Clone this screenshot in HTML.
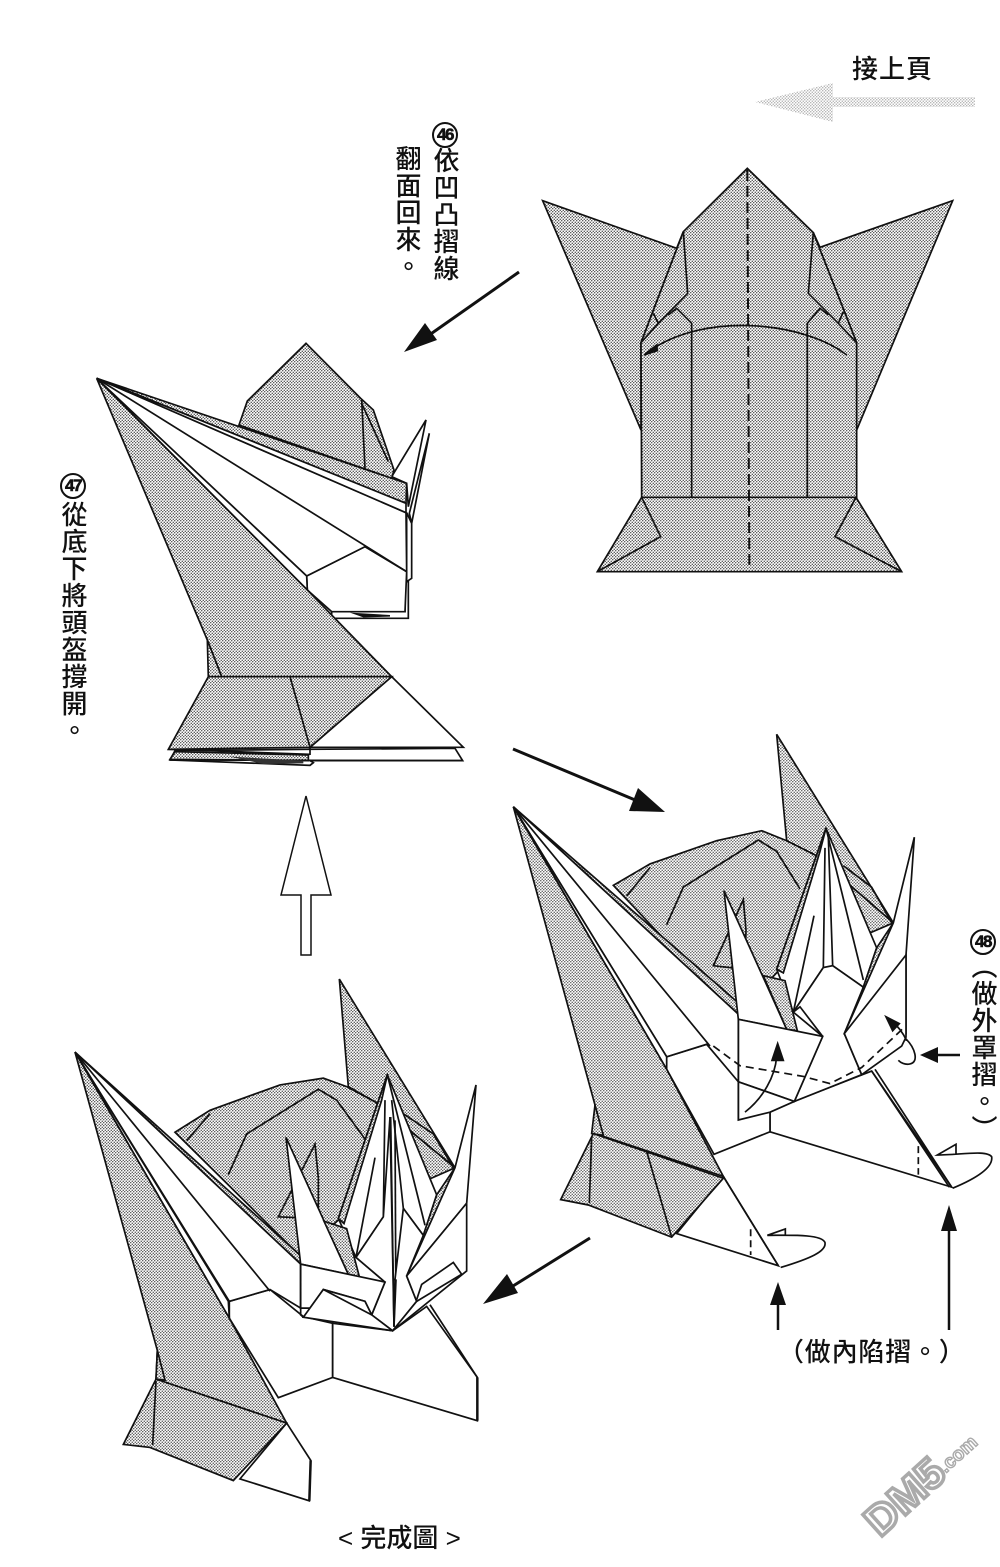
<!DOCTYPE html>
<html><head><meta charset="utf-8">
<style>
html,body{margin:0;padding:0;background:#fff;}
#p{position:relative;width:1000px;height:1567px;overflow:hidden;background:#fff;font-family:"Liberation Sans","Noto Sans CJK TC",sans-serif;color:#111;}
svg{position:absolute;left:0;top:0;}
svg *{vector-effect:non-scaling-stroke;}
.d polygon,.d path,.d polyline,.d line{stroke:#111;stroke-width:1.7;stroke-linejoin:miter;}
.d polyline,.d path,.d line{fill:none;}
.w{fill:#fff;}
.v{position:absolute;writing-mode:vertical-rl;font-size:26px;font-weight:500;line-height:30px;letter-spacing:1px;white-space:nowrap;}
.h{position:absolute;font-size:26px;font-weight:500;line-height:30px;white-space:nowrap;}
.c{position:absolute;width:22px;height:22px;border:2px solid #111;border-radius:50%;background:#fff;font:bold 17px/22px "Liberation Sans",sans-serif;text-align:center;letter-spacing:-1.5px;-webkit-text-stroke:.6px #111;}
</style></head><body><div id="p">
<svg width="1000" height="1567" viewBox="0 0 1000 1567" xmlns="http://www.w3.org/2000/svg">
<defs>
<pattern id="t1" patternUnits="userSpaceOnUse" width="9" height="9" viewBox="0 0 3 3"><rect width="3" height="3" fill="#fff"/><circle cx=".75" cy=".75" r=".68" fill="#222"/><circle cx="2.25" cy="2.25" r=".68" fill="#222"/></pattern>
<pattern id="t3" patternUnits="userSpaceOnUse" width="9" height="8.4" viewBox="0 0 3 3"><rect width="3" height="3" fill="#fff"/><circle cx=".75" cy=".75" r=".68" fill="#222"/><circle cx="2.25" cy="2.25" r=".68" fill="#222"/></pattern>
<pattern id="t4" patternUnits="userSpaceOnUse" width="9" height="8.87" viewBox="0 0 3 3"><rect width="3" height="3" fill="#fff"/><circle cx=".75" cy=".75" r=".68" fill="#222"/><circle cx="2.25" cy="2.25" r=".68" fill="#222"/></pattern>
<pattern id="t0" patternUnits="userSpaceOnUse" width="3" height="3"><rect width="3" height="3" fill="#fff"/><circle cx=".75" cy=".75" r=".7" fill="#aaa"/><circle cx="2.25" cy="2.25" r=".7" fill="#aaa"/></pattern>
</defs>

<!-- page top arrow -->
<polygon points="755,102 833,83 833,97 975,97 975,107 833,107 833,122" fill="url(#t0)"/>

<!-- Diagram 1 -->
<g class="d" transform="translate(540,160) scale(.33333)" fill="url(#t1)">
<polygon points="8,122 410,265 430,215 303,548 303,810"/>
<polygon points="1238,122 840,262 820,218 950,548 950,810"/>
<polygon points="622,25 820,218 950,548 950,1012 305,1012 303,548 430,215"/>
<polygon points="305,1012 948,1012 1085,1235 172,1235"/>
<polyline points="430,215 443,400 355,490 303,548"/>
<polyline points="820,218 805,400 895,490 950,548"/>
<polyline points="340,460 355,490"/>
<polyline points="910,455 895,490"/>
<polyline points="385,465 410,445 455,490 455,1012"/>
<polyline points="865,465 840,445 802,490 802,1012"/>
<polyline points="305,1012 362,1130 172,1235"/>
<polyline points="948,1012 885,1130 1085,1235"/>
<line x1="622" y1="30" x2="628" y2="1225" style="stroke-dasharray:11 5;stroke-width:2"/>
<path d="M920,585 C800,490 500,450 325,575"/>
<polygon points="312,585 350,555 352,572" style="fill:#111"/>
</g>

<!-- Diagram 2 -->
<g class="d" transform="translate(90,340) scale(.33333)" fill="url(#t1)">
<polygon class="w" points="965,550 1018,280 958,520"/>
<polygon class="w" points="905,410 1008,240 955,500 950,430"/>
<polygon points="447,255 472,183 648,10 812,175 850,210 912,390 905,415"/>
<polyline points="815,180 825,385"/>
<polyline points="815,190 895,365"/>
<polygon class="w" points="725,815 945,815 945,725 955,725 955,835 725,835"/>
<polygon class="w" points="950,518 965,550 965,715 950,725"/>
<polygon class="w" points="650,708 825,620 950,695 945,815 725,815 652,750"/>
<polygon class="w" points="20,115 948,518 950,695 825,620 650,708 30,125"/>
<line x1="20" y1="115" x2="950" y2="695"/>
<polygon points="20,115 950,430 948,490"/>
<polygon class="w" points="20,115 948,490 948,518"/>
<polygon class="w" points="20,115 650,708 652,750"/>
<polygon points="20,115 652,750 905,1010 395,1010 352,900"/>
<polygon points="352,900 355,1010 395,1010"/>
<polygon class="w" points="660,1228 1095,1225 1118,1262 660,1262 670,1268 660,1276 240,1260 255,1232"/>
<polygon class="w" points="660,1222 905,1010 1120,1222"/>
<polygon points="355,1010 905,1010 660,1222 235,1228"/>
<polyline points="235,1228 660,1243"/>
<polygon points="255,1235 655,1245 655,1262 240,1258"/>
<polyline points="600,1010 660,1222 660,1245"/>
<polyline points="240,1260 1118,1262"/>
<polygon points="780,818 900,825 900,830 820,832" style="fill:#111;stroke:none"/>
<polygon points="420,1250 640,1262 640,1270 520,1272" style="fill:#333;stroke:none"/>
</g>

<!-- Arrows between -->
<g>
<line x1="519" y1="272" x2="425" y2="338" stroke="#111" stroke-width="3"/>
<polygon points="404,352 425,323 437,340" fill="#111"/>
<line x1="513" y1="749" x2="640" y2="802" stroke="#111" stroke-width="3"/>
<polygon points="665,812 629,811 638,788" fill="#111"/>
<line x1="590" y1="1238" x2="505" y2="1291" stroke="#111" stroke-width="3"/>
<polygon points="483,1304 507,1274 518,1293" fill="#111"/>
<polygon points="306,796 331,895 311,895 311,955 301,955 301,895 281,895" fill="#fff" stroke="#111" stroke-width="1.5"/>
<line x1="778" y1="1330" x2="778" y2="1300" stroke="#111" stroke-width="2.5"/>
<polygon points="778,1282 770,1305 786,1305" fill="#111"/>
<line x1="949" y1="1330" x2="949" y2="1228" stroke="#111" stroke-width="2.5"/>
<polygon points="949,1205 941,1231 957,1231" fill="#111"/>
<line x1="960" y1="1055" x2="935" y2="1055" stroke="#111" stroke-width="2.5"/>
<polygon points="920,1055 938,1047 938,1063" fill="#111"/>
</g>

<!-- Diagram 3 -->
<g class="d" transform="translate(510,730) scale(.33333,.35714)" fill="url(#t3)">
<polygon points="800,12 830,310 915,350 1150,540"/>
<polygon points="310,435 420,375 620,310 755,282 830,310 915,350 1150,540 800,680 680,800"/>
<polyline points="470,545 520,440 745,308 800,340 870,445"/>
<polyline points="350,465 420,385"/>
<polyline points="1000,380 1085,440 1145,540"/>
<polygon points="700,475 610,660 705,670 708,560"/>
<!-- lower panels -->
<polygon class="w" points="640,1250 805,1500 500,1410"/>
<polygon class="w" points="780,1125 1325,1280 1085,955 850,1040 780,1070"/>
<polygon class="w" points="470,915 590,880 780,1040 780,1125 612,1188 470,950"/>
<polyline points="1085,955 1318,1280"/>
<polyline points="1095,950 1325,1280"/>
<polyline points="640,1250 805,1500"/>
<line x1="722" y1="1398" x2="722" y2="1470" style="stroke-dasharray:7 4"/>
<line x1="1225" y1="1165" x2="1225" y2="1245" style="stroke-dasharray:7 4"/>
<!-- shaded band along blade -->
<polygon points="10,215 690,800 680,760"/>
<!-- white blade -->
<polygon class="w" points="10,215 690,800 685,985 590,880 470,915"/>
<line x1="10" y1="215" x2="600" y2="885"/>
<polygon class="w" points="10,215 470,915 470,950"/>
<!-- main shaded -->
<polygon points="10,215 470,950 640,1250 255,1130 255,1050"/>
<polygon points="255,1050 245,1130 280,1135"/>
<!-- collar -->
<polygon points="250,1130 640,1255 485,1420 235,1330 152,1315"/>
<polyline points="410,1180 485,1420"/>
<polyline points="245,1140 238,1325"/>
<!-- crown -->
<polygon class="w" points="948,275 800,670 850,790 938,858 1003,850 1055,965 1060,720 1100,610"/>
<polygon points="948,275 800,670 820,680 930,340" />
<polyline points="945,330 940,665 850,790"/>
<polyline points="955,300 968,660 1060,720"/>
<polyline points="948,275 1060,700"/>
<polyline points="912,520 850,790"/>
<polygon class="w" points="850,790 870,775 938,858 853,1040 1055,965 1003,850 1060,720 968,660 940,665"/>
<!-- small horn -->
<polygon class="w" points="642,450 830,838 685,810"/>
<polygon points="760,688 825,702 862,842 830,838"/>
<!-- right horn -->
<polygon points="1100,610 1150,540 1060,770 1020,830 1060,720"/>
<polygon class="w" points="1213,300 1188,630 1188,850 1003,850 1150,540"/>
<polygon class="w" points="1003,850 1188,630 1188,860 1175,885 1055,965"/>
<!-- left mask -->
<polygon class="w" points="685,810 938,858 853,1040 685,985"/>
<polygon class="w" points="685,985 853,1040 780,1070 685,1092"/>
<line x1="685" y1="810" x2="685" y2="1092"/>
<path d="M610,885 L690,940 L880,970 L960,990 L1055,945 L1180,835" style="stroke-dasharray:8 5"/>
<path d="M705,1070 C760,1030 795,970 800,915"/>
<polygon points="803,878 786,925 820,925" style="fill:#111"/>
<path d="M1190,870 C1180,850 1165,830 1145,815"/>
<polygon points="1128,803 1168,822 1148,842" style="fill:#111"/>
<path d="M1188,865 C1215,890 1228,930 1200,935 C1185,938 1172,932 1165,925"/>
<path d="M812,1505 C900,1480 950,1460 945,1435 C935,1410 830,1415 772,1415 L826,1397 L826,1415"/>
<path d="M1328,1283 C1400,1255 1450,1225 1445,1195 C1430,1175 1350,1190 1282,1190 L1338,1160 L1338,1188"/>
</g>

<!-- Diagram 4 -->
<g class="d" transform="translate(70,975) scale(.33333,.33818)" fill="url(#t4)">
<polygon points="808,12 835,330 915,375 1155,570"/>
<polygon points="315,465 420,400 630,325 760,305 830,330 915,375 1155,570 810,720 690,830"/>
<polyline points="475,590 530,470 745,338 800,370 885,485"/>
<polyline points="350,490 420,410"/>
<polyline points="1000,410 1090,470 1150,570"/>
<polygon points="735,500 625,715 745,720 745,600"/>
<!-- lower panels -->
<polygon class="w" points="650,1325 722,1435 718,1555 510,1490"/>
<polygon class="w" points="788,1190 1222,1318 1222,1190 1070,980 968,1052 788,1030"/>
<polygon class="w" points="478,965 600,930 700,1010 788,1030 788,1190 625,1250 478,1015"/>
<line x1="1080" y1="975" x2="1222" y2="1190"/>
<line x1="1222" y1="1190" x2="1222" y2="1318" style="stroke-width:2.5"/>
<line x1="722" y1="1435" x2="718" y2="1555" style="stroke-width:2.5"/>
<polygon points="15,228 692,830 692,855"/>
<polygon class="w" points="15,228 692,855 692,985 600,930 478,965"/>
<line x1="15" y1="228" x2="600" y2="935"/>
<polygon class="w" points="15,228 475,965 478,1015"/>
<polygon points="15,228 478,1015 650,1325 258,1195 262,1110"/>
<polygon points="262,1110 258,1195 285,1198"/>
<polygon points="258,1195 650,1325 490,1495 240,1397 160,1388"/>
<polyline points="258,1200 248,1390"/>
<!-- crown -->
<polygon class="w" points="952,295 805,720 858,835 945,908 1010,890 1040,965 1060,770 1100,650"/>
<polygon points="952,295 805,720 822,735 935,370"/>
<polyline points="945,370 940,715 858,835"/>
<polyline points="965,370 1000,690 1060,770"/>
<polyline points="952,295 1065,740"/>
<polyline points="915,540 858,835"/>
<polyline points="960,420 972,1040"/>
<polyline points="975,430 978,1040"/>
<polygon class="w" points="858,835 945,908 905,1005 968,1052 1040,965 1010,890 1060,770 1000,690 975,900 972,1040 960,420 940,715" />
<polyline points="962,420 972,1040"/>
<polyline points="978,900 972,1040"/>
<!-- small horn -->
<polygon class="w" points="648,480 835,885 692,855"/>
<polygon points="762,728 830,750 868,892 835,885"/>
<!-- right horn -->
<polygon points="1100,650 1155,570 1060,820 1020,880 1060,770"/>
<polygon class="w" points="1218,325 1190,675 1010,890 1155,570"/>
<polygon class="w" points="1010,890 1190,675 1190,875 968,1052 1040,965"/>
<polyline points="1040,960 1055,915 1150,850 1175,885 1040,965"/>
<!-- left mask -->
<polygon class="w" points="692,855 945,908 905,1005 885,965 760,930 720,985 692,985"/>
<polygon class="w" points="700,1012 760,930 885,965 905,1005 968,1052"/>
<polyline points="760,930 905,1005"/>
<polyline points="692,855 692,1005 700,1012"/>
<line x1="788" y1="1030" x2="788" y2="1190"/>
</g>

<!-- Watermark -->
<g transform="translate(880,1538) rotate(-42)">
<text x="0" y="0" font-family="Liberation Sans,sans-serif" font-weight="bold" font-size="42" fill="#fff" stroke="#aaa" stroke-width="3.5" textLength="92" lengthAdjust="spacingAndGlyphs">DM5</text>
<text x="92" y="-4" font-family="Liberation Sans,sans-serif" font-weight="bold" font-size="19" fill="#fff" stroke="#aaa" stroke-width="1.4">.com</text>
</g>
</svg>

<div class="h" style="left:852px;top:54px;letter-spacing:1px;">接上頁</div>
<div class="c" style="left:432px;top:122px;">46</div>
<div class="v" style="left:430px;top:147px;">依凹凸摺線</div>
<div class="v" style="left:392px;top:145px;">翻面回來。</div>
<div class="c" style="left:60px;top:473px;">47</div>
<div class="v" style="left:58px;top:501px;">從底下將頭盔撐開。</div>
<div class="c" style="left:970px;top:929px;">48</div>
<div class="v" style="left:968px;top:953px;">（做外罩摺。）</div>
<div class="h" style="left:778px;top:1337px;letter-spacing:.8px;">（做內陷摺。）</div>
<div class="h" style="left:338px;top:1523px;">&lt; 完成圖 &gt;</div>
</div></body></html>
